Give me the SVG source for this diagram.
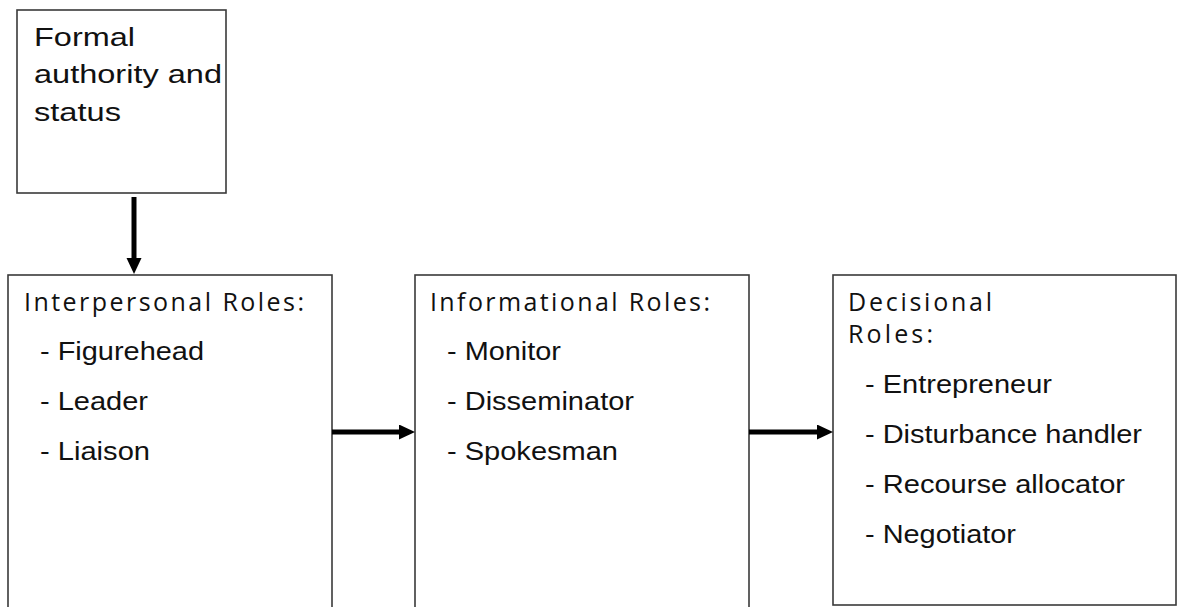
<svg xmlns="http://www.w3.org/2000/svg" width="1178" height="607" viewBox="0 0 1178 607">
  <style>
    .box { fill: #ffffff; stroke: #3a3a3a; stroke-width: 1.6; }
    .body { font-family: "Liberation Sans", Arial, sans-serif; fill: #111111; }
    .head { font-family: "Open Sans", "Noto Sans", sans-serif; font-size: 25px; fill: #111111; }
    .link { stroke: #000000; stroke-width: 5; fill: none; }
  </style>
  <defs>
    <marker id="arrowhead" markerUnits="userSpaceOnUse" markerWidth="18" markerHeight="16" refX="2" refY="7.5" orient="auto">
      <path d="M0,0 L16,7.5 L0,15 Z" fill="#000000"/>
    </marker>
  </defs>
  <rect width="1178" height="607" fill="#ffffff"/>

  <!-- Source node -->
  <g id="formal-authority">
    <rect class="box" x="17" y="10" width="209" height="183"/>
    <g class="body" font-size="26">
      <text x="34" y="46" textLength="101" lengthAdjust="spacingAndGlyphs">Formal</text>
      <text x="34" y="83" textLength="188" lengthAdjust="spacingAndGlyphs">authority and</text>
      <text x="34" y="121" textLength="87" lengthAdjust="spacingAndGlyphs">status</text>
    </g>
  </g>

  <!-- Role groups -->
  <g id="interpersonal-roles">
    <rect class="box" x="8" y="275" width="324" height="345"/>
    <text class="head" x="24" y="311" textLength="280">Interpersonal Roles:</text>
    <g class="body" font-size="25">
      <text x="40" y="360" textLength="164" lengthAdjust="spacingAndGlyphs">- Figurehead</text>
      <text x="40" y="410" textLength="108" lengthAdjust="spacingAndGlyphs">- Leader</text>
      <text x="40" y="460" textLength="110" lengthAdjust="spacingAndGlyphs">- Liaison</text>
    </g>
  </g>

  <g id="informational-roles">
    <rect class="box" x="415" y="275" width="334" height="345"/>
    <text class="head" x="430" y="311" textLength="280">Informational Roles:</text>
    <g class="body" font-size="25">
      <text x="447" y="360" textLength="114" lengthAdjust="spacingAndGlyphs">- Monitor</text>
      <text x="447" y="410" textLength="187" lengthAdjust="spacingAndGlyphs">- Disseminator</text>
      <text x="447" y="460" textLength="171" lengthAdjust="spacingAndGlyphs">- Spokesman</text>
    </g>
  </g>

  <g id="decisional-roles">
    <rect class="box" x="833" y="275" width="343" height="330"/>
    <text class="head" x="848" y="311" textLength="144">Decisional</text>
    <text class="head" x="848" y="343" textLength="85">Roles:</text>
    <g class="body" font-size="25">
      <text x="865" y="393" textLength="187" lengthAdjust="spacingAndGlyphs">- Entrepreneur</text>
      <text x="865" y="443" textLength="277" lengthAdjust="spacingAndGlyphs">- Disturbance handler</text>
      <text x="865" y="493" textLength="260" lengthAdjust="spacingAndGlyphs">- Recourse allocator</text>
      <text x="865" y="543" textLength="151" lengthAdjust="spacingAndGlyphs">- Negotiator</text>
    </g>
  </g>

  <!-- Connectors -->
  <g id="connectors">
    <path class="link" d="M134,197 L134,260" marker-end="url(#arrowhead)"/>
    <path class="link" d="M332,432 L401,432" marker-end="url(#arrowhead)"/>
    <path class="link" d="M749,432 L819,432" marker-end="url(#arrowhead)"/>
  </g>
</svg>
